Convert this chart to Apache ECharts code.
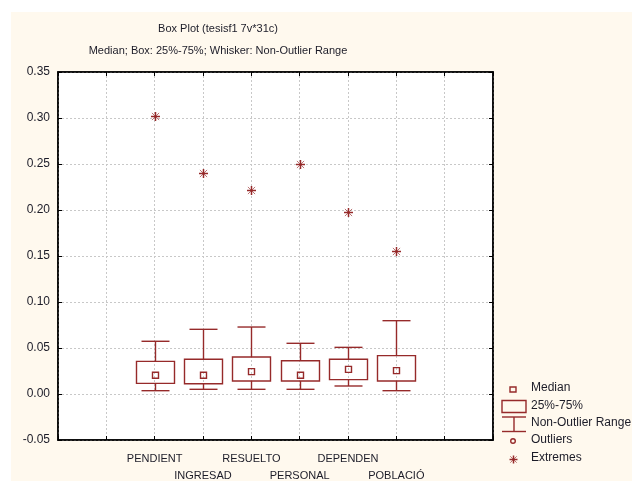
<!DOCTYPE html>
<html>
<head>
<meta charset="utf-8">
<script src="https://cdn.jsdelivr.net/npm/echarts@6/dist/echarts.min.js"></script>
<style>
html,body{margin:0;padding:0;background:#fff;}
#c{width:632px;height:481px;}
</style>
</head>
<body>
<div id="c"></div>
<script>
// Data
var categories = ['PENDIENT', 'INGRESAD', 'RESUELTO', 'PERSONAL', 'DEPENDEN', 'POBLACIÓ'];
var categoryPos = [2, 3, 4, 5, 6, 7];
var whiskerLow = [0.0036, 0.0051, 0.0051, 0.0051, 0.0087, 0.0036];
var q1 = [0.0116, 0.0112, 0.0141, 0.0141, 0.0156, 0.0141];
var median = [0.0203, 0.0203, 0.0243, 0.0203, 0.0268, 0.0254];
var q3 = [0.0355, 0.0377, 0.0402, 0.0362, 0.0377, 0.0417];
var whiskerHigh = [0.0573, 0.0703, 0.0728, 0.0551, 0.0507, 0.0797];
var extremes = [0.3018, 0.2402, 0.2214, 0.2503, 0.1978, 0.1558];
var yTicks = [-0.05, 0, 0.05, 0.10, 0.15, 0.20, 0.25, 0.30, 0.35];

var RED = '#962a2a';
var FONT = 'Liberation Sans, Arial, sans-serif';
var TXT = '#1c1c28';

var boxData = categoryPos.map(function (x, i) {
  return [x, whiskerLow[i], q1[i], median[i], q3[i], whiskerHigh[i]];
});
var extremeData = categoryPos.map(function (x, i) { return [x, extremes[i]]; });

function renderBox(params, api) {
  var x = api.value(0);
  var pLow = api.coord([x, api.value(1)]);
  var pQ1 = api.coord([x, api.value(2)]);
  var pMed = api.coord([x, api.value(3)]);
  var pQ3 = api.coord([x, api.value(4)]);
  var pHigh = api.coord([x, api.value(5)]);
  var cx = Math.round(pMed[0]) + 0.5;
  var bw = 38, cw = 28, ms = 6;
  var st = {stroke: RED, lineWidth: 1.4, fill: null};
  return {
    type: 'group',
    children: [
      {type: 'line', shape: {x1: cx, y1: pHigh[1], x2: cx, y2: pQ3[1]}, style: st},
      {type: 'line', shape: {x1: cx - cw / 2, y1: pHigh[1], x2: cx + cw / 2, y2: pHigh[1]}, style: st},
      {type: 'line', shape: {x1: cx, y1: pQ1[1], x2: cx, y2: pLow[1]}, style: st},
      {type: 'line', shape: {x1: cx - cw / 2, y1: pLow[1], x2: cx + cw / 2, y2: pLow[1]}, style: st},
      {type: 'rect', shape: {x: cx - bw / 2, y: pQ3[1], width: bw, height: pQ1[1] - pQ3[1]}, style: {stroke: RED, lineWidth: 1.4, fill: 'none'}},
      {type: 'rect', shape: {x: cx - ms / 2, y: pMed[1] - ms / 2, width: ms, height: ms}, style: {stroke: RED, lineWidth: 1.4, fill: 'none'}}
    ]
  };
}

function starShape(cx, cy, r) {
  var d = r * 0.8;
  return [
    {type: 'line', shape: {x1: cx - r, y1: cy, x2: cx + r, y2: cy}, style: {stroke: RED, lineWidth: 1.5}},
    {type: 'line', shape: {x1: cx, y1: cy - r, x2: cx, y2: cy + r}, style: {stroke: RED, lineWidth: 1.5}},
    {type: 'line', shape: {x1: cx - d, y1: cy - d, x2: cx + d, y2: cy + d}, style: {stroke: RED, lineWidth: 1, opacity: 0.65}},
    {type: 'line', shape: {x1: cx - d, y1: cy + d, x2: cx + d, y2: cy - d}, style: {stroke: RED, lineWidth: 1, opacity: 0.65}}
  ];
}

function renderExtreme(params, api) {
  var p = api.coord([api.value(0), api.value(1)]);
  return {type: 'group', children: starShape(Math.round(p[0]) + 0.5, Math.round(p[1]) + 0.5, 4.5)};
}

var gridLine = {show: true, lineStyle: {color: '#c8c8c8', type: [2, 2], width: 1}};
var axLine = {show: true, onZero: false, lineStyle: {color: '#000', width: 1.5}};
var axTick = {show: true, inside: true, length: 4, lineStyle: {color: '#000'}};

var chart = echarts.init(document.getElementById('c'));
chart.setOption({
  backgroundColor: '#ffffff',
  animation: false,
  title: [
    {text: 'Box Plot (tesisf1 7v*31c)', left: 213, top: 18, textAlign: 'center',
     textStyle: {fontFamily: FONT, fontSize: 11, fontWeight: 'normal', color: TXT}},
    {text: 'Median; Box: 25%-75%; Whisker: Non-Outlier Range', left: 213, top: 40, textAlign: 'center',
     textStyle: {fontFamily: FONT, fontSize: 11, fontWeight: 'normal', color: TXT}}
  ],
  grid: {left: 58, right: 139, top: 72, bottom: 41, show: true, containLabel: false, outerBoundsMode: 'none',
         backgroundColor: '#ffffff', borderColor: '#000', borderWidth: 1.5},
  xAxis: [
    {type: 'value', min: 0, max: 9, interval: 1, position: 'bottom',
     axisLine: axLine, axisTick: axTick,
     splitLine: gridLine,
     axisLabel: {
       margin: 10, fontFamily: FONT, fontSize: 11, color: TXT, lineHeight: 17,
       showMinLabel: true, showMaxLabel: true,
       formatter: function (v) {
         var i = categoryPos.indexOf(Math.round(v));
         if (i < 0) return '';
         return (i % 2 === 1 ? '\n' : '') + categories[i];
       }
     }},
    {type: 'value', min: 0, max: 9, interval: 1, position: 'top',
     axisLine: axLine, axisTick: axTick,
     splitLine: {show: false}, axisLabel: {show: false}}
  ],
  yAxis: [
    {type: 'value', min: -0.05, max: 0.35, interval: 0.05, position: 'left',
     axisLine: axLine, axisTick: axTick,
     splitLine: gridLine,
     axisLabel: {margin: 8, fontFamily: FONT, fontSize: 12, color: TXT,
       formatter: function (v) {
         var best = yTicks.reduce(function (a, b) { return Math.abs(b - v) < Math.abs(a - v) ? b : a; });
         return best.toFixed(2);
       }}},
    {type: 'value', min: -0.05, max: 0.35, interval: 0.05, position: 'right',
     axisLine: axLine, axisTick: axTick,
     splitLine: {show: false}, axisLabel: {show: false}}
  ],
  graphic: [
    {type: 'rect', z: -10, silent: true, shape: {x: 11, y: 12, width: 621, height: 469}, style: {fill: '#fff9ee'}},
    // legend symbols
    {type: 'rect', shape: {x: 510, y: 387, width: 6, height: 5}, style: {stroke: RED, lineWidth: 1.4, fill: 'none'}},
    {type: 'rect', shape: {x: 502, y: 400.5, width: 24, height: 12}, style: {stroke: RED, lineWidth: 1.4, fill: 'none'}},
    {type: 'line', shape: {x1: 502, y1: 417, x2: 526, y2: 417}, style: {stroke: RED, lineWidth: 1.4}},
    {type: 'line', shape: {x1: 514, y1: 417, x2: 514, y2: 431.5}, style: {stroke: RED, lineWidth: 1.4}},
    {type: 'line', shape: {x1: 502, y1: 431.5, x2: 526, y2: 431.5}, style: {stroke: RED, lineWidth: 1.4}},
    {type: 'circle', shape: {cx: 513, cy: 441, r: 2.3}, style: {stroke: RED, lineWidth: 1.4, fill: 'none'}},
    {type: 'group', children: starShape(513.5, 459.5, 4)},
    // legend texts
    {type: 'text', left: 531, top: 382, style: {text: 'Median', font: '12px ' + FONT, fill: TXT}},
    {type: 'text', left: 531, top: 400, style: {text: '25%-75%', font: '12px ' + FONT, fill: TXT}},
    {type: 'text', left: 531, top: 417, style: {text: 'Non-Outlier Range', font: '12px ' + FONT, fill: TXT}},
    {type: 'text', left: 531, top: 434, style: {text: 'Outliers', font: '12px ' + FONT, fill: TXT}},
    {type: 'text', left: 531, top: 452, style: {text: 'Extremes', font: '12px ' + FONT, fill: TXT}}
  ],
  series: [
    {name: 'Box', type: 'custom', renderItem: renderBox, data: boxData, encode: {x: 0, y: [1, 2, 3, 4, 5]}, z: 5},
    {name: 'Extremes', type: 'custom', renderItem: renderExtreme, data: extremeData, encode: {x: 0, y: 1}, z: 6}
  ]
});
</script>
</body>
</html>
